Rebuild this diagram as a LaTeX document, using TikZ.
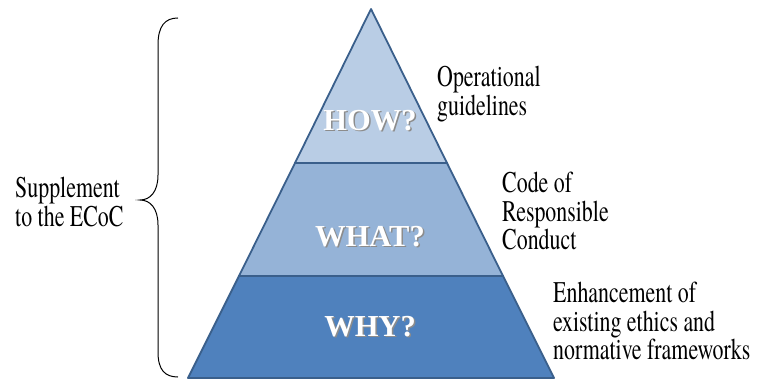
\documentclass[tikz,border=0pt]{standalone}
\usepackage{fontspec}
\setmainfont{Liberation Serif}
% Times-like face for the plain labels
\IfFontExistsTF{texgyretermes-regular.otf}
  {\newfontfamily\sidefont{texgyretermes-regular.otf}[FakeStretch=0.73]}
  {\newfontfamily\sidefont{lmroman10-regular.otf}[FakeStretch=0.73]}
\usepackage{tikz}

\definecolor{howfill}{HTML}{B9CDE5}
\definecolor{whatfill}{HTML}{95B3D7}
\definecolor{whyfill}{HTML}{4F81BD}
\definecolor{edge}{HTML}{3A5F8B}

% white level caption with a soft drop shadow
\newcommand{\levtext}[1]{\makebox[0pt][l]{\hspace{1.5pt}\raisebox{-1.5pt}{\color{black!45}#1}}\color{white}#1}

\tikzset{
  level/.style={draw=edge,line width=1.8pt,line join=round},
  levlabel/.style={font=\fontsize{30.5}{31}\selectfont\bfseries,inner sep=0pt},
  side/.style={font=\sidefont\fontsize{30}{28.5}\selectfont,align=left,anchor=west,inner sep=0pt}
}

\begin{document}
\begin{tikzpicture}[x=1pt,y=-1pt]
\useasboundingbox (0,0) rectangle (757,379);
% pyramid, top to bottom
\draw [level,fill=howfill] (371,9) -- (447,163) -- (295,163) -- cycle;
\draw [level,fill=whatfill] (295,163) -- (447,163) -- (503,276) -- (239,276) -- cycle;
\draw [level,fill=whyfill] (239,276) -- (503,276) -- (554,378) -- (188,378) -- cycle;
\node [levlabel] (how) at(370,121){\levtext{HOW?}};
\node [levlabel] (what) at(370,237){\levtext{WHAT?}};
\node [levlabel] (why) at(370,327){\levtext{WHY?}};
% descriptions on the right
\node [side] (ops) at(437,94){Operational\\guidelines};
\node [side] (code) at(502,211){Code of\\Responsible\\Conduct};
\node [side] (enh) at(553,321){Enhancement of\\existing ethics and\\normative frameworks};
% brace and its label on the left
\draw [line width=1pt] (178,18) .. controls (165,18) and (158,26) .. (158,45) -- (158,175)
  .. controls (158,192) and (150,200) .. (140,200)
  .. controls (150,200) and (158,208) .. (158,225) -- (158,352)
  .. controls (158,370) and (165,377) .. (178,377);
\node [side] (supp) at(15,202){Supplement\\to the ECoC};
\end{tikzpicture}
\end{document}
